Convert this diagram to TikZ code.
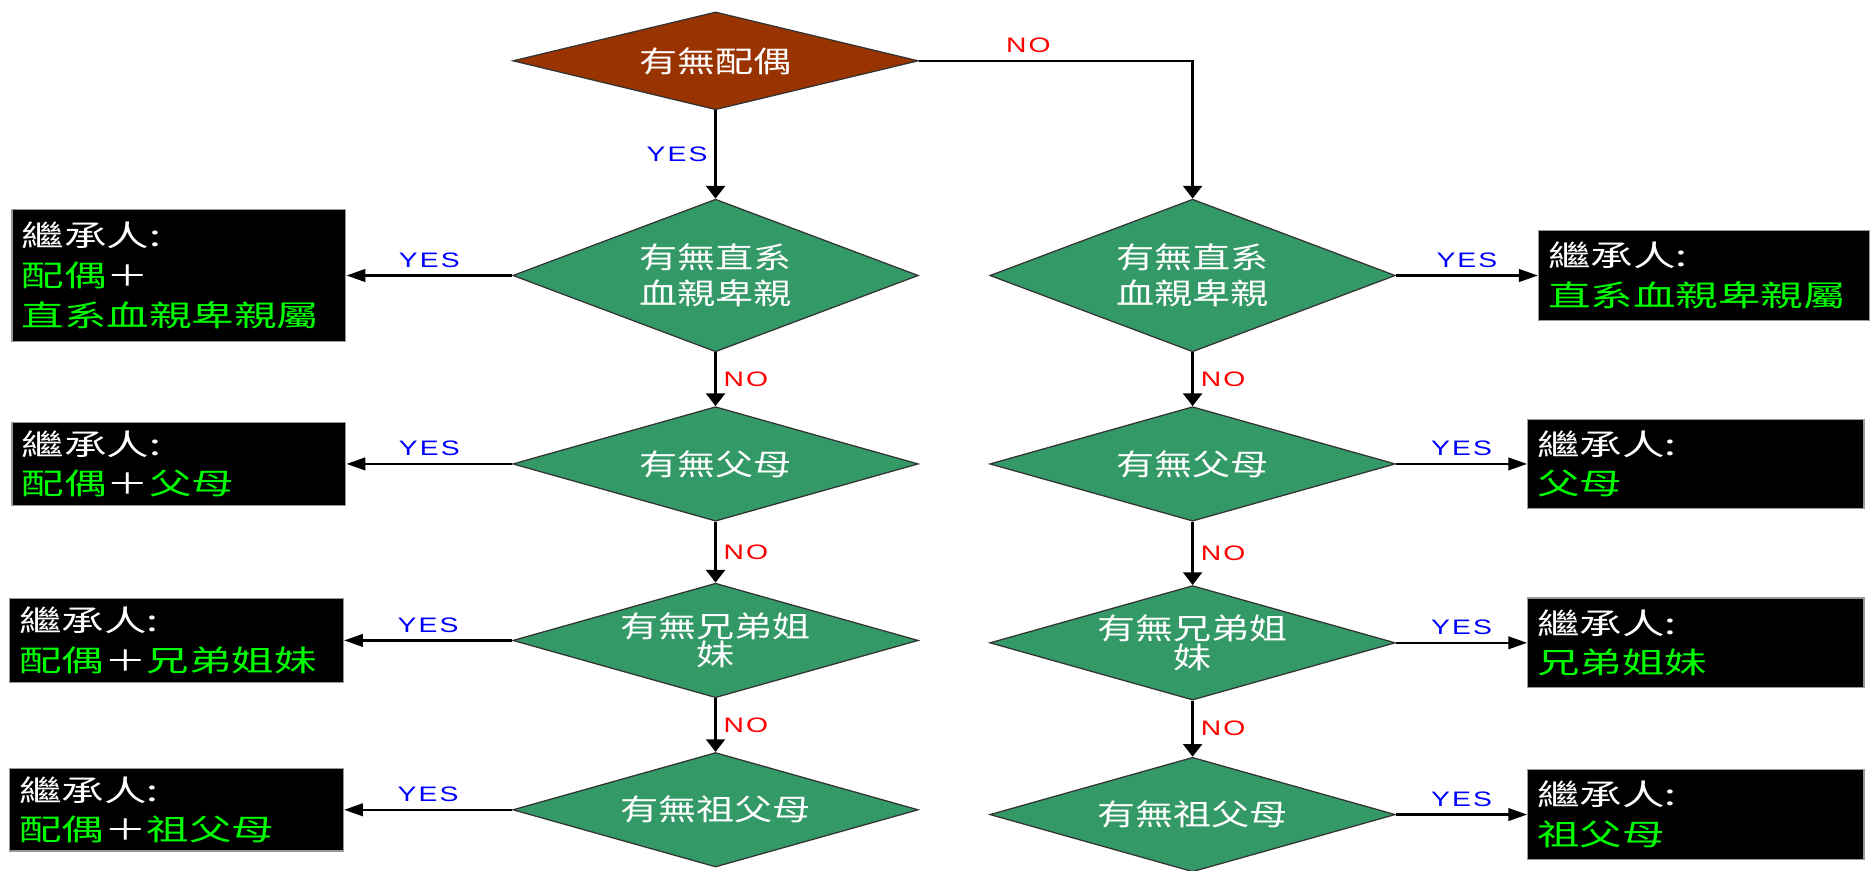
\documentclass[tikz,border=0pt]{standalone}
\usepackage{fontspec}
\usetikzlibrary{shapes.geometric,arrows.meta}
\newfontfamily\askfont[FakeStretch=1.3]{Noto Sans CJK TC}
\newfontfamily\heirfont[FakeStretch=1.45]{Noto Sans CJK TC}
\newfontfamily\tagfont[FakeStretch=1.35,LetterSpace=10]{Liberation Sans}
\definecolor{spousebrown}{RGB}{153,51,0}
\definecolor{askgreen}{RGB}{51,153,102}
\definecolor{heirgreen}{RGB}{0,255,0}
\definecolor{yesblue}{RGB}{0,0,255}
\definecolor{nored}{RGB}{255,0,0}

\begin{document}
\begin{tikzpicture}[->,>={Triangle[length=6pt,width=9pt]},line width=1.1pt,
	  node distance=3cm,
	  ask node/.style={diamond,draw=black!80,line width=0.6pt,fill=askgreen,inner sep=0pt,
	    aspect=3.54,minimum width=6.8cm,minimum height=1.92cm,text=white,align=center,
	    font=\askfont\fontsize{14pt}{17pt}\selectfont},
	  heir node/.style={rectangle,draw=black!40,line width=0.6pt,fill=black,text=white,
	    text width=5.28cm,align=left,inner xsep=0.16cm,inner ysep=0.06cm,
	    font=\heirfont\fontsize{14pt}{19pt}\selectfont},
	  yes arrow/.style={-{Triangle[length=9pt,width=6pt]}},
	  yes label/.style={text=yesblue,font=\tagfont\fontsize{10pt}{11pt}\selectfont},
	  no label/.style={text=nored,font=\tagfont\fontsize{10pt}{11pt}\selectfont}]

	\useasboundingbox (0,0) rectangle (31.36,-14.6);

	% questions
	\node[ask node,fill=spousebrown,aspect=4.15,minimum height=1.64cm] (0) at (12,-1.02) {有無配偶};
	\node[ask node,aspect=2.66,minimum height=2.56cm] (1) [below of=0, node distance=3.6cm] {有無直系\\血親卑親};
	\node[ask node] (2) [below of=1, node distance=3.16cm] {有無父母};
	\node[ask node,font=\askfont\fontsize{14pt}{13.5pt}\selectfont] (3) [below of=2, node distance=2.96cm] {有無兄弟姐\\妹};
	\node[ask node] (4) [below of=3, node distance=2.84cm] {有無祖父母};
	\node[ask node,aspect=2.66,minimum height=2.56cm] (5) [right of=1, node distance=8cm] {有無直系\\血親卑親};
	\node[ask node] (6) [right of=2, node distance=8cm] {有無父母};
	\node[ask node,font=\askfont\fontsize{14pt}{13.5pt}\selectfont] (7) [below of=6, node distance=3cm] {有無兄弟姐\\妹};
	\node[ask node] (8) [below of=7, node distance=2.88cm] {有無祖父母};

	% heirs
	\node[heir node,minimum height=2.22cm] (h1) [left of=1, node distance=9cm]
		{繼承人:\\\textcolor{heirgreen}{配偶}＋\\\textcolor{heirgreen}{直系血親卑親屬}};
	\node[heir node,minimum height=1.4cm] (h2) [left of=2, node distance=9cm]
		{繼承人:\\\textcolor{heirgreen}{配偶}＋\textcolor{heirgreen}{父母}};
	\node[heir node,minimum height=1.4cm] (h3) [left of=3, node distance=9.04cm]
		{繼承人:\\\textcolor{heirgreen}{配偶}＋\textcolor{heirgreen}{兄弟姐妹}};
	\node[heir node,minimum height=1.38cm] (h4) [left of=4, node distance=9.04cm]
		{繼承人:\\\textcolor{heirgreen}{配偶}＋\textcolor{heirgreen}{祖父母}};
	\node[heir node,text width=5.24cm,minimum height=1.52cm] (h5) [right of=5, node distance=8.58cm]
		{繼承人:\\\textcolor{heirgreen}{直系血親卑親屬}};
	\node[heir node,text width=5.32cm,minimum height=1.5cm] (h6) [right of=6, node distance=8.44cm]
		{繼承人:\\\textcolor{heirgreen}{父母}};
	\node[heir node,text width=5.32cm,minimum height=1.5cm] (h7) [right of=7, node distance=8.44cm]
		{繼承人:\\\textcolor{heirgreen}{兄弟姐妹}};
	\node[heir node,text width=5.32cm,minimum height=1.5cm] (h8) [right of=8, node distance=8.44cm]
		{繼承人:\\\textcolor{heirgreen}{祖父母}};

	\path
		(0) edge node [left,yes label] {YES} (1)
		(1) edge node [right,no label] {NO} (2)
			edge [yes arrow] node [above,yes label] {YES} (h1)
		(2) edge node [right,no label] {NO} (3)
			edge [yes arrow] node [above,yes label] {YES} (h2)
		(3) edge node [right,no label] {NO} (4)
			edge [yes arrow] node [above,yes label] {YES} (h3)
		(4) edge [yes arrow] node [above,yes label] {YES} (h4)
		(5) edge node [right,no label] {NO} (6)
			edge [yes arrow] node [above,yes label] {YES} (h5)
		(6) edge node [right,no label] {NO} (7)
			edge [yes arrow] node [above,yes label] {YES} (h6)
		(7) edge node [right,no label] {NO} (8)
			edge [yes arrow] node [above,yes label] {YES} (h7)
		(8) edge [yes arrow] node [above,yes label] {YES} (h8);
	\draw (0) -| node [pos=0.2,above,no label] {NO} (5);

\end{tikzpicture}
\end{document}
